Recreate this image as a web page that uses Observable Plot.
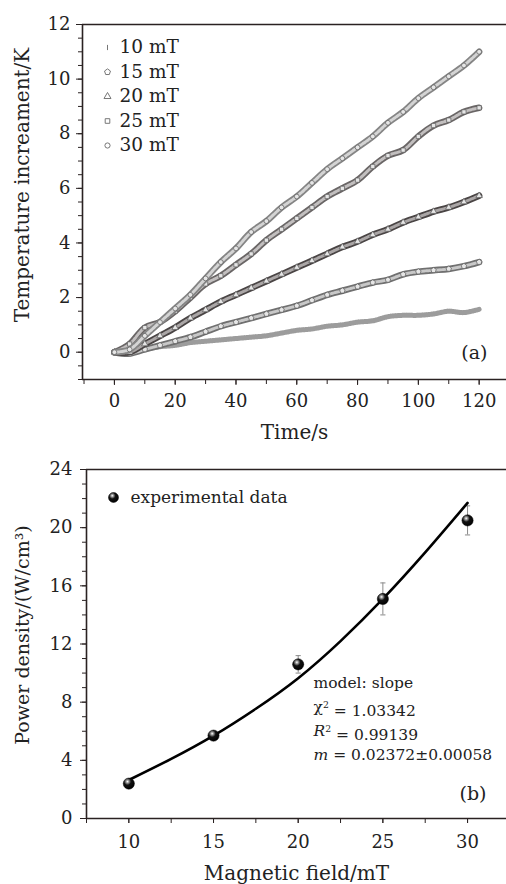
<!DOCTYPE html>
<html><head><meta charset="utf-8">
<script src="https://cdn.jsdelivr.net/npm/d3@7"></script>
<script src="https://cdn.jsdelivr.net/npm/@observablehq/plot@0.6"></script>
<style>
body{margin:0;background:#fff}
#chart svg{display:block}
</style>
</head><body>
<svg width="0" height="0" style="position:absolute">
  <defs>
    <radialGradient id="ball" cx="0.38" cy="0.32" r="0.7">
      <stop offset="0" stop-color="#ffffff"/>
      <stop offset="0.18" stop-color="#9a9a9a"/>
      <stop offset="0.45" stop-color="#111"/>
      <stop offset="1" stop-color="#000"/>
    </radialGradient>
  </defs>
</svg>
<div id="chart"></div>
<script>
// ---------- Panel (a) data ----------
const time = [0,5,10,15,20,25,30,35,40,45,50,55,60,65,70,75,80,85,90,95,100,105,110,115,120];
const temp10 = [0.0,0.0,0.1,0.2,0.25,0.35,0.4,0.45,0.5,0.55,0.6,0.7,0.8,0.85,0.95,1.0,1.1,1.15,1.3,1.35,1.35,1.4,1.5,1.45,1.57];
const temp15 = [0.0,-0.05,0.1,0.25,0.4,0.55,0.75,0.95,1.1,1.25,1.4,1.55,1.7,1.9,2.1,2.25,2.4,2.55,2.65,2.85,2.95,3.0,3.05,3.15,3.3];
const temp20 = [0.0,0.0,0.3,0.6,0.9,1.25,1.55,1.85,2.1,2.35,2.6,2.85,3.1,3.35,3.6,3.85,4.05,4.3,4.5,4.75,4.95,5.15,5.3,5.5,5.73];
const temp25 = [0.0,0.3,0.9,1.1,1.5,2.0,2.5,2.8,3.2,3.6,4.1,4.5,4.9,5.3,5.7,6.0,6.3,6.8,7.2,7.4,7.9,8.3,8.5,8.8,8.95];
const temp30 = [0.0,0.1,0.6,1.1,1.6,2.1,2.7,3.3,3.8,4.4,4.8,5.3,5.7,6.2,6.7,7.1,7.5,7.9,8.4,8.8,9.3,9.7,10.1,10.5,11.0];
const seriesNames = ["10 mT","15 mT","20 mT","25 mT","30 mT"];
const timeTicks = [0,20,40,60,80,100,120];
const tempTicks = [0,2,4,6,8,10,12];

// ---------- Panel (b) data ----------
const field = [10,15,20,25,30];
const power = [2.4,5.7,10.6,15.1,20.5];
const powerErr = [0.25,0.25,0.6,1.1,1.0];
const fitField = [10,12.5,15,17.5,20,22.5,25,27.5,30];
const fitPower = [2.65,4.1,5.7,7.55,9.65,12.2,15.1,18.3,21.7];
const fieldTicks = [10,15,20,25,30];
const powerTicks = [0,4,8,12,16,20,24];
const fitText = ["model: slope","χ2 = 1.03342","R2 = 0.99139","m = 0.02372±0.00058"];

// ---------- symbols ----------
const pentagon = {draw(ctx, size){const r=Math.sqrt(size/Math.PI)*1.2;for(let i=0;i<5;i++){const a=-Math.PI/2+i*2*Math.PI/5;const x=r*Math.cos(a),y=r*Math.sin(a);i?ctx.lineTo(x,y):ctx.moveTo(x,y);}ctx.closePath();}};
const vline = {draw(ctx,size){const r=Math.sqrt(size/Math.PI);ctx.moveTo(0,-r);ctx.lineTo(0,r);}};
const hline = {draw(ctx,size){const r=Math.sqrt(size/Math.PI);ctx.moveTo(-r,0);ctx.lineTo(r,0);}};

const FONT = "DejaVu Serif";
const AX = "#2a2222";

const temps = [temp10,temp15,temp20,temp25,temp30];
const symbols = [vline,pentagon,"triangle","square","circle"];
const outer = ["#9c9c9c","#707070","#4a4545","#6a6666","#858585"];
const inner = [null,"#c8c8c8","#aaa6a6","#c2bfbf","#d4d4d4"];
const rows = temps.map(arr => time.map((t,i)=>({t, v: arr[i]})));

const topMarks = [];
rows.forEach((data,k)=>{
  if(k===0){
    topMarks.push(Plot.line(data,{x:"t",y:"v",stroke:outer[0],strokeWidth:5,strokeDasharray:"1.2,0.6",curve:"catmull-rom"}));
  } else {
    topMarks.push(Plot.line(data,{x:"t",y:"v",stroke:outer[k],strokeWidth:6.5,curve:"catmull-rom"}));
    topMarks.push(Plot.line(data,{x:"t",y:"v",stroke:inner[k],strokeWidth:3,strokeDasharray:"2.5,1.4",curve:"catmull-rom"}));
    topMarks.push(Plot.dot(data,{x:"t",y:"v",symbol:()=>symbols[k],r:2.4,fill:"#e6e6e6",stroke:"#5a5a5a",strokeWidth:0.7}));
  }
});

// legend (a)
seriesNames.forEach((name,i)=>{
  topMarks.push(Plot.dot([name],{frameAnchor:"top-left",dx:25,dy:23+i*24.5,symbol:symbols[i],r:2.6,fill:"none",stroke:"#777",strokeWidth:1}));
  topMarks.push(Plot.text([name],{text:d=>d,frameAnchor:"top-left",dx:37,dy:23+i*24.5,textAnchor:"start",lineAnchor:"middle",fontSize:18.5,fontFamily:FONT,fill:"#222"}));
});

const plotA = Plot.plot({
  width:506,height:445,
  marginLeft:82,marginTop:24,marginBottom:66,marginRight:0,
  style:{fontFamily:FONT,background:"white",color:AX},
  x:{domain:[-10.5,129]},
  y:{domain:[-1,12]},
  marks:[
    Plot.ruleY([12],{stroke:AX,strokeWidth:1.6}),
    Plot.ruleY([-1],{stroke:AX,strokeWidth:1.6}),
    Plot.ruleX([-10.5],{stroke:AX,strokeWidth:1.6}),
    Plot.axisY({ticks:tempTicks,tickSize:6,tickPadding:6,fontSize:18,fontFamily:FONT,label:null,stroke:AX,fill:"#222"}),
    Plot.axisY({ticks:d3.range(-1,12.01,0.5),tickSize:4,text:null,label:null,stroke:AX}),
    Plot.axisX({ticks:timeTicks,tickSize:6,tickPadding:9,fontSize:18,fontFamily:FONT,label:null,stroke:AX,fill:"#222"}),
    Plot.axisX({ticks:d3.range(-10,130,10),tickSize:5,text:null,label:null,stroke:AX}),
    Plot.text(["Temperature increament/K"],{text:d=>d,frameAnchor:"left",rotate:-90,dx:-60,dy:-17,textAnchor:"middle",lineAnchor:"middle",fontSize:20,fontFamily:FONT,fill:"#222"}),
    Plot.text(["Time/s"],{text:d=>d,frameAnchor:"bottom",dy:53,textAnchor:"middle",lineAnchor:"middle",fontSize:20,fontFamily:FONT,fill:"#222"}),
    Plot.text(["(a)"],{text:d=>d,frameAnchor:"bottom-right",dx:-19,dy:-27,textAnchor:"end",lineAnchor:"middle",fontSize:19,fontFamily:FONT,fill:"#222"}),
    ...topMarks
  ]
});

// ---------- Panel (b) ----------
const pts = field.map((f,i)=>({f,p:power[i],e:powerErr[i]}));
const fit = fitField.map((f,i)=>({f,p:fitPower[i]}));
const botMarks = [
  Plot.ruleX(pts,{x:"f",y1:d=>d.p-d.e,y2:d=>d.p+d.e,stroke:"#8a8a8a",strokeWidth:1}),
  Plot.dot(pts,{x:"f",y:d=>d.p+d.e,symbol:hline,r:2.6,stroke:"#8a8a8a",strokeWidth:1}),
  Plot.dot(pts,{x:"f",y:d=>d.p-d.e,symbol:hline,r:2.6,stroke:"#8a8a8a",strokeWidth:1}),
  Plot.line(fit,{x:"f",y:"p",stroke:"#000",strokeWidth:2.6,curve:"natural"}),
  Plot.dot(pts,{x:"f",y:"p",r:5.6,fill:"url(#ball)",stroke:"#000",strokeWidth:0.5}),
  Plot.dot(["experimental data"],{frameAnchor:"top-left",dx:27,dy:28,r:5,fill:"url(#ball)",stroke:"#000",strokeWidth:0.5}),
  Plot.text(["experimental data"],{text:d=>d,frameAnchor:"top-left",dx:44,dy:28,textAnchor:"start",lineAnchor:"middle",fontSize:17,fontFamily:FONT,fill:"#222"})
];
fitText.forEach((s,i)=>{
  botMarks.push(Plot.text([s],{text:d=>d,frameAnchor:"top-left",dx:227,dy:214+i*24,textAnchor:"start",lineAnchor:"middle",fontSize:15.5,fontFamily:FONT,fill:"#222"}));
});

const plotB = Plot.plot({
  width:506,height:439,
  marginLeft:86,marginTop:24,marginBottom:66,marginRight:0,
  style:{fontFamily:FONT,background:"white",color:AX},
  x:{domain:[7.5,32.3]},
  y:{domain:[0,24]},
  marks:[
    Plot.ruleY([24],{stroke:AX,strokeWidth:1.4}),
    Plot.ruleY([0],{stroke:AX,strokeWidth:1.6}),
    Plot.ruleX([7.5],{stroke:AX,strokeWidth:1.6}),
    Plot.axisY({ticks:powerTicks,tickSize:6,tickPadding:8,fontSize:18,fontFamily:FONT,label:null,stroke:AX,fill:"#222"}),
    Plot.axisY({ticks:d3.range(0,24.01,1),tickSize:4,text:null,label:null,stroke:AX}),
    Plot.axisX({ticks:fieldTicks,tickSize:5,tickPadding:12,fontSize:18,fontFamily:FONT,label:null,stroke:AX,fill:"#222"}),
    Plot.axisX({ticks:d3.range(7.5,32.5,2.5),tickSize:5,text:null,label:null,stroke:AX}),
    Plot.text(["Power density/(W/cm³)"],{text:d=>d,frameAnchor:"left",rotate:-90,dx:-64,dy:-9,textAnchor:"middle",lineAnchor:"middle",fontSize:19,fontFamily:FONT,fill:"#222"}),
    Plot.text(["Magnetic field/mT"],{text:d=>d,frameAnchor:"bottom",dy:55,textAnchor:"middle",lineAnchor:"middle",fontSize:20,fontFamily:FONT,fill:"#222"}),
    Plot.text(["(b)"],{text:d=>d,frameAnchor:"bottom-right",dx:-20,dy:-25,textAnchor:"end",lineAnchor:"middle",fontSize:19,fontFamily:FONT,fill:"#222"}),
    ...botMarks
  ]
});

// italic / superscript formatting of the fit annotation
d3.select(plotB).selectAll("text").each(function(){
  const el = d3.select(this);
  const s = el.text();
  const m = s.match(/^(χ|R|m)(2?) = (.*)$/);
  if(m){
    el.text(null);
    const sym = el.append("tspan").text(m[1]);
    if(m[1] !== "χ") sym.attr("font-style","italic");
    if(m[2]) el.append("tspan").attr("font-size","0.6em").attr("dy","-0.5em").text(m[2]);
    el.append("tspan").attr("dy", m[2] ? "0.5em" : null).text(" = " + m[3]);
  }
});

document.getElementById("chart").append(plotA, plotB);
</script>
</body></html>
